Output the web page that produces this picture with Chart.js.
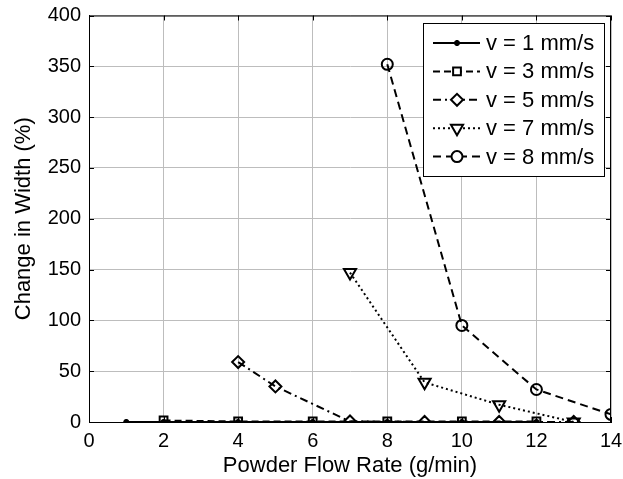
<!DOCTYPE html>
<html>
<head>
<meta charset="utf-8">
<script src="https://cdn.jsdelivr.net/npm/chart.js@4.4.0/dist/chart.umd.min.js"></script>
<style>
  html, body { margin: 0; padding: 0; background: #fff; }
  canvas { display: block; }
</style>
</head>
<body>
<canvas id="c" width="623" height="479"></canvas>
<script>
// Data
const seriesLabels = ['v = 1 mm/s', 'v = 3 mm/s', 'v = 5 mm/s', 'v = 7 mm/s', 'v = 8 mm/s'];

const v1X = [1, 2, 4, 6, 8, 10, 12];
const v1Y = [0, 0, 0, 0, 0, 0, 0];

const v3X = [2, 4, 6, 8, 10, 12];
const v3Y = [1.5, 0.5, 0.5, 0.5, 0.5, 0.5];

const v5X = [4, 5, 7, 9, 11, 13];
const v5Y = [59, 35, 0.5, 0, 0, 0];

const v7X = [7, 9, 11, 13];
const v7Y = [147, 39, 17, 0];

const v8X = [8, 10, 12, 14];
const v8Y = [352, 95, 32, 7.5];

const xTicks = [0, 2, 4, 6, 8, 10, 12, 14];
const yTicks = [0, 50, 100, 150, 200, 250, 300, 350, 400];

const FONT = "'Liberation Sans', Arial, sans-serif";

function pts(xs, ys) {
    return xs.map((x, i) => ({ x: x, y: ys[i] }));
}

// style per series: dash, marker, marker radius, rotation
const styles = [
    { dash: [],           point: 'star',     r: 3,   rot: 0 },
    { dash: [7, 4],       point: 'rect',     r: 5.5, rot: 0 },
    { dash: [8, 4, 2, 4], point: 'rectRot',  r: 6,   rot: 0 },
    { dash: [2, 3],       point: 'triangle', r: 7,   rot: 180 },
    { dash: [8, 5],       point: 'circle',   r: 5.5, rot: 0 }
];

const allX = [v1X, v3X, v5X, v7X, v8X];
const allY = [v1Y, v3Y, v5Y, v7Y, v8Y];

const datasets = seriesLabels.map((lab, i) => ({
    label: lab,
    data: pts(allX[i], allY[i]),
    borderColor: '#000',
    borderWidth: 2,
    borderDash: styles[i].dash,
    pointStyle: styles[i].point,
    pointRadius: styles[i].r,
    pointRotation: styles[i].rot,
    pointBorderColor: '#000',
    pointBackgroundColor: 'rgba(0,0,0,0)',
    pointBorderWidth: 2,
    fill: false,
    tension: 0,
    order: 5 - i
}));

// frame with inward tick marks on all four sides
const framePlugin = {
    id: 'frame',
    afterDatasetsDraw(chart) {
        const { ctx, chartArea: a, scales } = chart;
        ctx.save();
        ctx.strokeStyle = '#000';
        ctx.lineWidth = 1;
        ctx.setLineDash([]);
        ctx.strokeRect(a.left + 0.5, a.top + 0.5, a.right - a.left - 1, a.bottom - a.top);
        const tl = 5;
        ctx.beginPath();
        xTicks.forEach(v => {
            const x = Math.round(scales.x.getPixelForValue(v)) + 0.5;
            ctx.moveTo(x, a.top); ctx.lineTo(x, a.top + tl);
            ctx.moveTo(x, a.bottom); ctx.lineTo(x, a.bottom - tl);
        });
        yTicks.forEach(v => {
            const y = Math.round(scales.y.getPixelForValue(v)) + 0.5;
            ctx.moveTo(a.left, y); ctx.lineTo(a.left + tl, y);
            ctx.moveTo(a.right, y); ctx.lineTo(a.right - tl, y);
        });
        ctx.stroke();
        ctx.restore();
    }
};

// MATLAB-like legend box
const legendPlugin = {
    id: 'boxLegend',
    afterDraw(chart) {
        const { ctx, chartArea: a } = chart;
        const bx = a.right - 188, by = a.top + 7.5, bw = 181, bh = 153;
        ctx.save();
        ctx.fillStyle = '#fff';
        ctx.fillRect(bx, by, bw, bh);
        ctx.strokeStyle = '#000';
        ctx.lineWidth = 1;
        ctx.setLineDash([]);
        ctx.strokeRect(bx + 0.5, by + 0.5, bw, bh);
        ctx.font = '22px ' + FONT;
        ctx.textBaseline = 'middle';
        seriesLabels.forEach((lab, i) => {
            const y = by + 20 + i * 28.4;
            const st = styles[i];
            ctx.lineWidth = 2;
            ctx.setLineDash(st.dash);
            ctx.beginPath();
            ctx.moveTo(bx + 10, y);
            ctx.lineTo(bx + 57, y);
            ctx.stroke();
            ctx.setLineDash([]);
            ctx.fillStyle = '#fff';
            Chart.helpers.drawPoint(ctx, {
                pointStyle: st.point, radius: st.r, rotation: st.rot, borderWidth: 2
            }, bx + 34, y);
            ctx.fillStyle = '#000';
            ctx.fillText(lab, bx + 63, y + 1);
        });
        ctx.restore();
    }
};

new Chart(document.getElementById('c'), {
    type: 'line',
    data: { datasets: datasets },
    options: {
        responsive: false,
        animation: false,
        devicePixelRatio: 1,
        layout: { padding: { top: 15.5, right: 12, left: 0, bottom: 0 } },
        plugins: { legend: { display: false }, tooltip: { enabled: false } },
        scales: {
            x: {
                type: 'linear',
                min: 0, max: 14,
                afterFit: s => { s.height = 57; s.paddingLeft = 0; s.paddingRight = 0; },
                afterBuildTicks: s => { s.ticks = xTicks.map(v => ({ value: v })); },
                ticks: { color: '#000', font: { family: FONT, size: 20 }, padding: 7, maxRotation: 0 },
                grid: { color: '#bdbdbd', drawTicks: false },
                border: { color: '#000' },
                title: { display: true, text: 'Powder Flow Rate (g/min)', color: '#000',
                         font: { family: FONT, size: 22 }, padding: { top: 0, bottom: 0 } }
            },
            y: {
                min: 0, max: 400,
                afterFit: s => { s.width = 89; s.paddingTop = 0; s.paddingBottom = 0; },
                afterBuildTicks: s => { s.ticks = yTicks.map(v => ({ value: v })); },
                ticks: { color: '#000', font: { family: FONT, size: 20 }, padding: 8 },
                grid: { color: '#bdbdbd', drawTicks: false },
                border: { color: '#000' },
                title: { display: true, text: 'Change in Width (%)', color: '#000',
                         font: { family: FONT, size: 22 }, padding: { top: 11, bottom: 0 } }
            }
        }
    },
    plugins: [framePlugin, legendPlugin]
});
</script>
</body>
</html>
